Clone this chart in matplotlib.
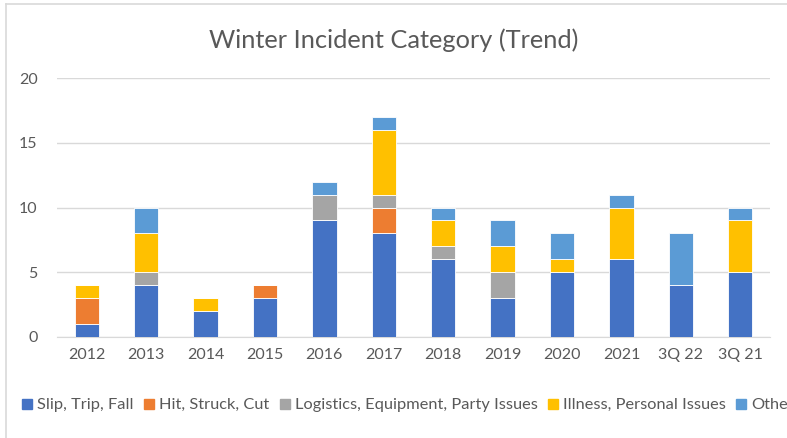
import matplotlib
matplotlib.use("Agg")
import matplotlib.pyplot as plt
from matplotlib.lines import Line2D
import numpy as np

plt.rcParams['font.family'] = ['Lato', 'DejaVu Sans']

categories = ["2012", "2013", "2014", "2015", "2016", "2017", "2018", "2019", "2020", "2021", "3Q 22", "3Q 21"]
slip = [1, 4, 2, 3, 9, 8, 6, 3, 5, 6, 4, 5]
hit = [2, 0, 0, 1, 0, 2, 0, 0, 0, 0, 0, 0]
logistics = [0, 1, 0, 0, 2, 1, 1, 2, 0, 0, 0, 0]
illness = [1, 3, 1, 0, 0, 5, 2, 2, 1, 4, 0, 4]
other = [0, 2, 0, 0, 1, 1, 1, 2, 2, 1, 4, 1]

series_names = ["Slip, Trip, Fall", "Hit, Struck, Cut", "Logistics, Equipment, Party Issues",
                "Illness, Personal Issues", "Other"]
colors = ["#4472C4", "#ED7D31", "#A5A5A5", "#FFC000", "#5B9BD5"]
series = [slip, hit, logistics, illness, other]

fig = plt.figure(figsize=(7.87, 4.38), dpi=100)
ax = fig.add_axes([57/787, 1-337/438, (770-57)/787, (337-78)/438])

x = np.arange(len(categories))
bottom = np.zeros(len(categories))
handles = []
for name, vals, c in zip(series_names, series, colors):
    vals = np.array(vals, dtype=float)
    ax.bar(x, vals, bottom=bottom, width=0.41, color=c, label=name, zorder=3,
           edgecolor="white", linewidth=0.6)
    bottom += vals
    handles.append(Line2D([], [], marker='s', linestyle='none', markersize=7,
                          markerfacecolor=c, markeredgecolor=c, label=name))

ax.set_xlim(-0.5, len(categories) - 0.5)
ax.set_ylim(0, 20)
ax.set_yticks([0, 5, 10, 15, 20])
ax.set_xticks(x)
ax.set_xticklabels(categories)
ax.yaxis.grid(True, color="#d9d9d9", linewidth=1)
ax.set_axisbelow(True)
for s in ["top", "right", "left"]:
    ax.spines[s].set_visible(False)
ax.spines["bottom"].set_color("#d9d9d9")
ax.tick_params(axis='both', length=0, labelsize=11.5, colors="#595959")
ax.tick_params(axis='x', pad=8)
ax.tick_params(axis='y', pad=14)

fig.text(0.5, 1-40/438, "Winter Incident Category (Trend)", ha='center', va='center',
         fontsize=18.3, color="#595959")

fig.legend(handles=handles, loc='center left', bbox_to_anchor=(20/787, 1-405/438), ncol=5,
           frameon=False, fontsize=11.8, handletextpad=0.15, columnspacing=0.5,
           handlelength=0.9, labelcolor="#595959", borderaxespad=0, borderpad=0)

# outer chart border (top and left visible)
fig.add_artist(Line2D([6/787, 1], [1-4/438, 1-4/438], transform=fig.transFigure, color="#d9d9d9", linewidth=1.2))
fig.add_artist(Line2D([6/787, 6/787], [0, 1-4/438], transform=fig.transFigure, color="#d9d9d9", linewidth=1.2))

fig.savefig("out.png", dpi=100)
